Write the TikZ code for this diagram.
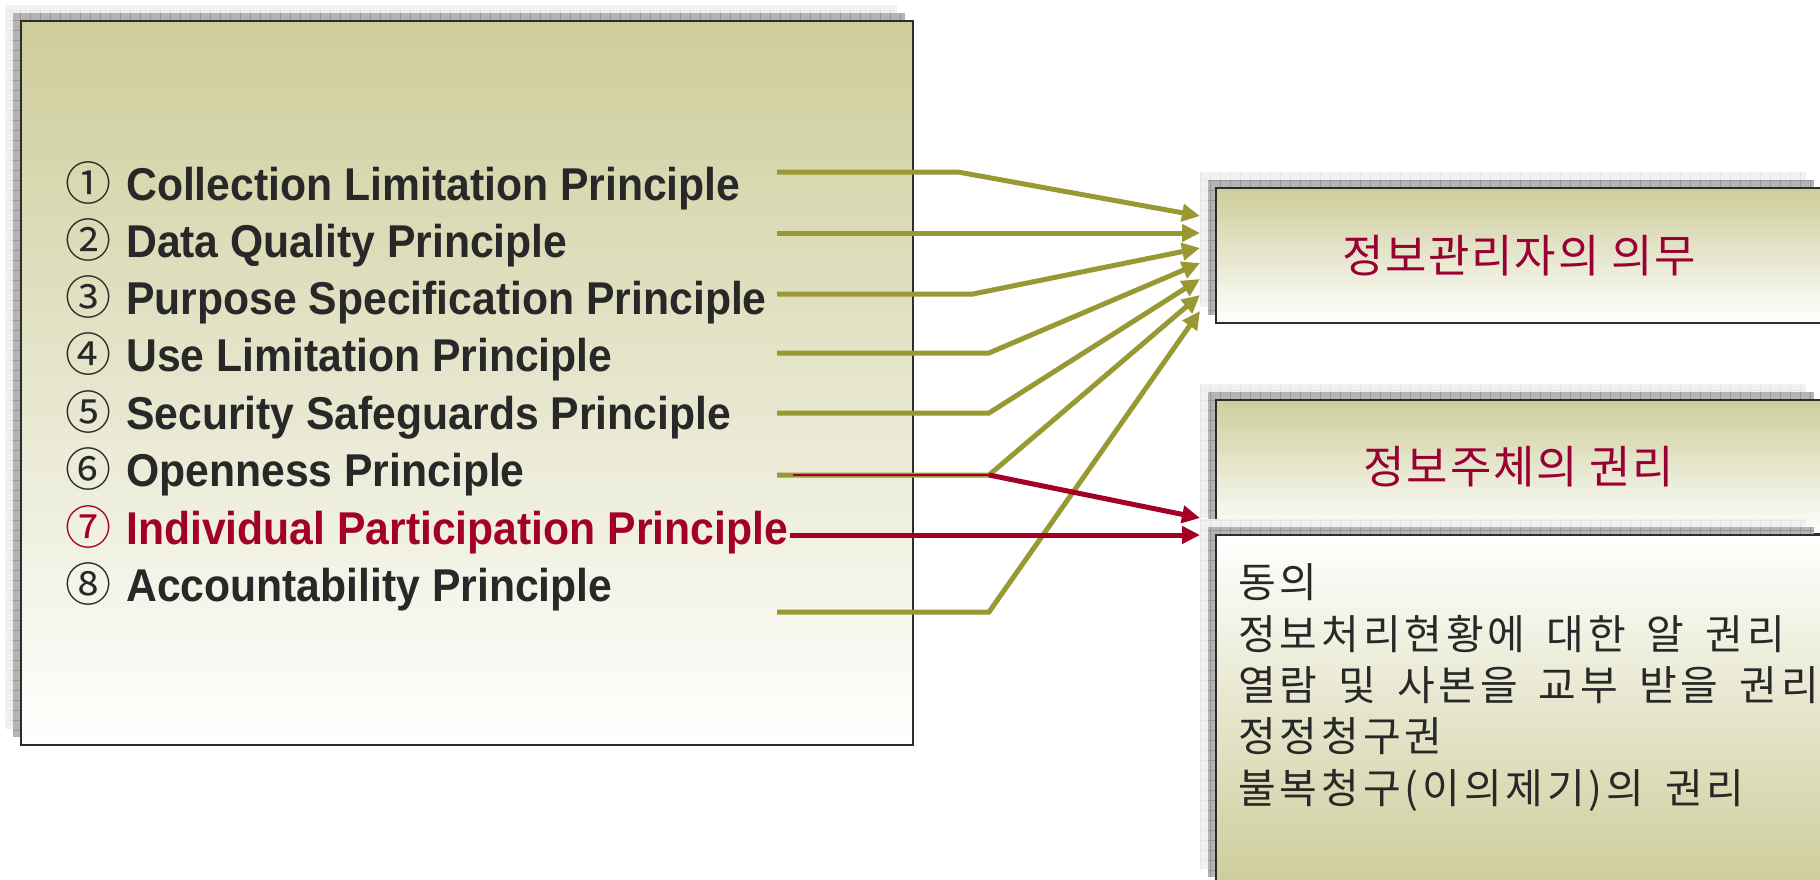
\documentclass[tikz,border=0pt]{standalone}
\usepackage{fontspec}
\usetikzlibrary{arrows.meta,calc}
\newfontfamily\enbold[FakeStretch=0.928]{Liberation Sans}
\newfontfamily\krfont{Noto Sans CJK KR}
\newfontfamily\krtitle[LetterSpace=4]{Noto Sans CJK KR}
\newfontfamily\krbody[LetterSpace=9.5,WordSpace=1.6]{Noto Sans CJK KR}
\definecolor{olivetop}{RGB}{205,205,155}
\definecolor{arrowolive}{RGB}{153,153,51}
\definecolor{deepred}{RGB}{163,0,38}
\definecolor{titlered}{RGB}{153,0,51}
\definecolor{inkgray}{RGB}{40,40,40}
\definecolor{framegray}{RGB}{45,45,45}
\definecolor{shadowdark}{RGB}{180,180,180}
\definecolor{shadowdarkline}{RGB}{150,150,150}
\definecolor{shadowlight}{RGB}{241,241,241}
\definecolor{shadowlightline}{RGB}{229,229,229}
\newcommand\castshadow[4]{%
  \begin{scope}
    \clip (#1-16,#2-16) rectangle (#3-16,#4-16);
    \fill[shadowlight] (#1-16,#2-16) rectangle (#3-16,#4-16);
    \draw[shadowlightline,line width=0.6pt,step=10pt] (#1-16,#2-16) grid (#3-16,#4-16);
  \end{scope}
  \begin{scope}
    \clip (#1-8,#2-8) rectangle (#3-8,#4-8);
    \fill[shadowdark] (#1-8,#2-8) rectangle (#3-8,#4-8);
    \draw[shadowdarkline,line width=0.8pt,step=10pt] (#1-8,#2-8) grid (#3-8,#4-8);
  \end{scope}}
\newcommand\cnumeral[1]{{\krfont\mdseries #1}\hspace{15pt}}
\begin{document}
\begin{tikzpicture}[x=1pt,y=-1pt,
  panel/.style={draw=framegray,line width=2pt,outer sep=0pt,inner sep=0pt,anchor=north west},
  olivepanel/.style={panel,top color=olivetop,bottom color=white},
  palepanel/.style={panel,top color=white,bottom color=olivetop},
  principle/.style={anchor=base west,inner sep=0pt,text=inkgray,font=\enbold\bfseries\fontsize{46}{55}\selectfont},
  keyprinciple/.style={principle,text=deepred},
  titletext/.style={font=\krtitle\fontsize{45}{52}\selectfont,text=titlered},
  feed/.style={draw=arrowolive,line width=5pt,-{Triangle[length=18pt,width=17pt]}},
  redfeed/.style={draw=deepred,line width=5pt,-{Triangle[length=18pt,width=17pt]}},
]
\useasboundingbox (0,0) rectangle (1820,880);
\fill[white] (0,0) rectangle (1820,880);

% left panel
\castshadow{21}{21}{913}{745}
\node[olivepanel,minimum width=892pt,minimum height=724pt] (principles) at (21,21) {};

\node[principle] (p1) at (65,200) {\cnumeral{①}Collection Limitation Principle};
\node[principle] (p2) at (65,257) {\cnumeral{②}Data Quality Principle};
\node[principle] (p3) at (65,314.5) {\cnumeral{③}Purpose Specification Principle};
\node[principle] (p4) at (65,371.5) {\cnumeral{④}Use Limitation Principle};
\node[principle] (p5) at (65,429) {\cnumeral{⑤}Security Safeguards Principle};
\node[principle] (p6) at (65,486.5) {\cnumeral{⑥}Openness Principle};
\node[keyprinciple] (p7) at (65,544) {\cnumeral{⑦}Individual Participation Principle};
\node[principle] (p8) at (65,601.5) {\cnumeral{⑧}Accountability Principle};

% duty box
\castshadow{1216}{188}{1822}{323}
\node[olivepanel,titletext,minimum width=606pt,minimum height=135pt] (duty) at (1216,188) {정보관리자의 의무};

% rights header
\castshadow{1216}{400}{1822}{534}
\node[olivepanel,titletext,minimum width=606pt,minimum height=134pt] (rights) at (1216,400) {정보주체의 권리};

% rights list box
\castshadow{1216}{535}{1822}{885}
\node[palepanel,minimum width=606pt,minimum height=350pt] (rightsbox) at (1216,535) {};
\node[anchor=base west,inner sep=0pt,align=left,text=inkgray,
      font=\krbody\fontsize{41}{51.3}\selectfont] (rightslist) at (1238,803)
  {동의\\정보처리현황에 대한 알 권리\\열람 및 사본을 교부 받을 권리\\정정청구권\\불복청구(이의제기)의 권리};

% start points
\coordinate (a1) at (777,172);
\coordinate (a2) at (777,233);
\coordinate (a3) at (777,294);
\coordinate (a4) at (777,353);
\coordinate (a5) at (777,413);
\coordinate (a6) at (777,475);
\coordinate (a8) at (777,612);
\coordinate (a6r) at (793,475);
\coordinate (a7) at ($(p7.base east)+(2,-9)$);

% tips
\coordinate (d1) at ($(duty.north west)+(-16,28)$);
\coordinate (d2) at ($(duty.north west)+(-16,45)$);
\coordinate (d3) at ($(duty.north west)+(-16,60)$);
\coordinate (d4) at ($(duty.north west)+(-16,75)$);
\coordinate (d5) at ($(duty.north west)+(-16,91)$);
\coordinate (d6) at ($(duty.north west)+(-16,107)$);
\coordinate (d8) at ($(duty.north west)+(-16,123)$);
\coordinate (r6) at ($(rights.north west)+(-16,118)$);
\coordinate (r7) at ($(rightsbox.north west)+(-16,0)$);

% olive connectors
\draw[feed] (a1) -- ++(181,0) -- (d1);
\draw[feed] (a2) -- (d2);
\draw[feed] (a3) -- ++(196,0) -- (d3);
\draw[feed] (a4) -- ++(212,0) -- (d4);
\draw[feed] (a5) -- ++(212,0) -- (d5);
\draw[feed] (a6) -- ++(212,0) -- (d6);
\draw[feed] (a8) -- ++(212,0) -- (d8);

% red connectors
\draw[deepred,line width=1.6pt] (a6r) -- ++(196,0) coordinate (b6r);
\draw[redfeed] (b6r) -- (r6);
\draw[redfeed] (a7) -- (r7);
\end{tikzpicture}
\end{document}
